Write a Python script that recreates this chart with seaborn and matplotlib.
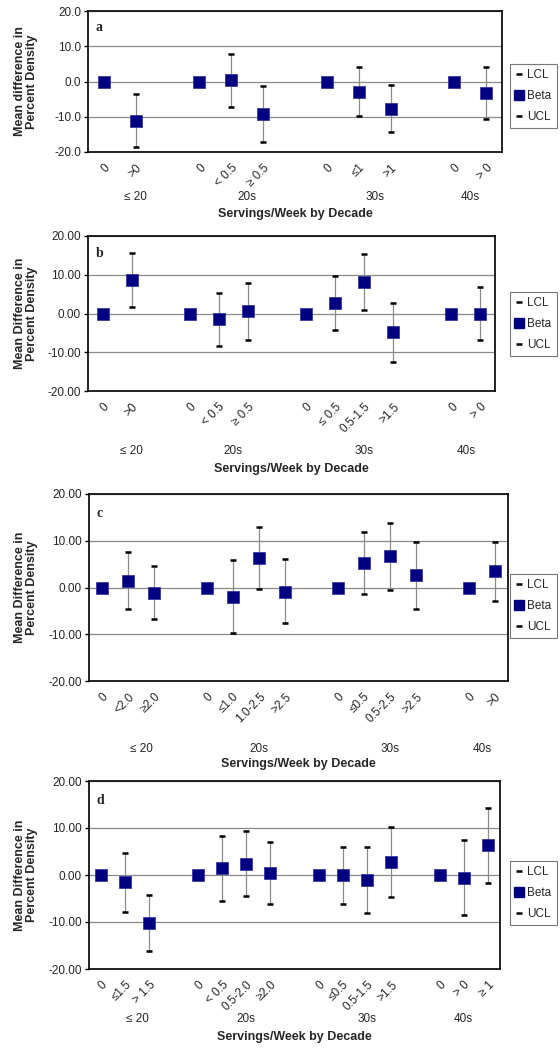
import numpy as np
import pandas as pd
import matplotlib
matplotlib.use('Agg')
import matplotlib.pyplot as plt
import seaborn as sns
from matplotlib.lines import Line2D
from matplotlib.ticker import FormatStrFormatter
from matplotlib.transforms import blended_transform_factory

# Data
decades = ['≤ 20', '20s', '30s', '40s']

a_cats = [['0', '>0'], ['0', '< 0.5', '≥ 0.5'], ['0', '≤1', '>1'], ['0', '> 0']]
a_beta = [0, -11.1, 0, 0.3, -9.2, 0, -3.0, -7.7, 0, -3.3]
a_lcl = [np.nan, -18.7, np.nan, -7.1, -17.2, np.nan, -9.9, -14.3, np.nan, -10.5]
a_ucl = [np.nan, -3.6, np.nan, 7.7, -1.3, np.nan, 4.0, -1.1, np.nan, 4.0]

b_cats = [['0', '>0'], ['0', '< 0.5', '≥ 0.5'], ['0', '≤ 0.5', '0.5-1.5', '>1.5'], ['0', '> 0']]
b_beta = [0, 8.6, 0, -1.5, 0.6, 0, 2.7, 8.1, -4.9, 0, -0.2]
b_lcl = [np.nan, 1.6, np.nan, -8.3, -6.8, np.nan, -4.3, 0.8, -12.5, np.nan, -6.9]
b_ucl = [np.nan, 15.5, np.nan, 5.3, 7.9, np.nan, 9.8, 15.3, 2.6, np.nan, 6.8]

c_cats = [['0', '<2.0', '≥2.0'], ['0', '≤1.0', '1.0-2.5', '>2.5'],
          ['0', '≤0.5', '0.5-2.5', '>2.5'], ['0', '>0']]
c_beta = [0, 1.4, -1.1, 0, -2.0, 6.3, -1.0, 0, 5.3, 6.7, 2.6, 0, 3.5]
c_lcl = [np.nan, -4.5, -6.7, np.nan, -9.8, -0.3, -7.7, np.nan, -1.3, -0.5, -4.7, np.nan, -2.8]
c_ucl = [np.nan, 7.5, 4.7, np.nan, 5.9, 12.9, 6.0, np.nan, 11.8, 13.9, 9.8, np.nan, 9.8]

d_cats = [['0', '≤1.5', '> 1.5'], ['0', '< 0.5', '0.5-2.0', '≥2.0'],
          ['0', '≤0.5', '0.5-1.5', '>1.5'], ['0', '> 0', '≥ 1']]
d_beta = [0, -1.5, -10.2, 0, 1.4, 2.4, 0.4, 0, -0.1, -1.1, 2.8, 0, -0.6, 6.3]
d_lcl = [np.nan, -7.8, -16.2, np.nan, -5.6, -4.4, -6.2, np.nan, -6.2, -8.1, -4.7, np.nan, -8.5, -1.7]
d_ucl = [np.nan, 4.75, -4.3, np.nan, 8.4, 9.3, 7.0, np.nan, 5.9, 5.9, 10.2, np.nan, 7.5, 14.3]

W, H = 560, 1048
NAVY = '#000080'

sns.set_theme(style='white')
plt.rcParams['font.family'] = ['Liberation Sans', 'DejaVu Sans']


def build(cats, beta, lcl, ucl):
    # categories with an empty slot between decades, like the Excel axis
    rows, centers, pos = [], [], 0
    for g, labels in enumerate(cats):
        start = pos
        for lab in labels:
            rows.append((pos, lab))
            pos += 1
        end = pos if g < len(cats) - 1 else pos - 1
        centers.append((start + end) / 2)
        pos += 1
    df = pd.DataFrame(rows, columns=['pos', 'label'])
    df['beta'] = beta
    df['lcl'] = lcl
    df['ucl'] = ucl
    return df, centers, pos - 1


def draw_panel(fig, box, data, letter, ylabel, yfmt, decade_y, title_y, legend_y):
    left, right, top, bottom = box
    df, centers, nslots = build(*data)
    ax = fig.add_axes([left / W, 1 - bottom / H, (right - left) / W, (bottom - top) / H])

    ax.set_yticks([-20, -10, 0, 10, 20])
    ax.yaxis.grid(True, color='#8a8a8a', lw=0.9)
    ax.set_axisbelow(True)

    ci = df.dropna()
    ax.vlines(ci['pos'], ci['lcl'], ci['ucl'], color='#8c8c8c', lw=0.9, zorder=2)
    sns.scatterplot(data=ci, x='pos', y='lcl', marker='_', color='black', s=20,
                    linewidth=1.8, ax=ax, zorder=3)
    sns.scatterplot(data=ci, x='pos', y='ucl', marker='_', color='black', s=20,
                    linewidth=1.8, ax=ax, zorder=3)
    sns.scatterplot(data=df, x='pos', y='beta', marker='s', color=NAVY, s=68,
                    edgecolor='#2a2a9a', linewidth=0.5, ax=ax, zorder=4)

    ax.set_xlim(-0.5, nslots - 0.5)
    ax.set_ylim(-20, 20)
    ax.set_xticks(df['pos'])
    ax.set_xticklabels(df['label'], rotation=45, ha='right', rotation_mode='anchor', fontsize=8.5)
    ax.tick_params(axis='x', length=0, pad=7)
    ax.tick_params(axis='y', length=3, direction='out', left=True, width=1,
                   color='black', labelsize=8.5, pad=2)
    ax.yaxis.set_major_formatter(FormatStrFormatter(yfmt))
    ax.set_xlabel('')
    ax.set_ylabel('')
    for sp in ax.spines.values():
        sp.set_color('#111111')
        sp.set_linewidth(1.3)

    ax.text(0.018, 0.93, letter, transform=ax.transAxes, va='top', ha='left',
            fontsize=10, fontweight='bold', family='Liberation Serif')

    tr = blended_transform_factory(ax.transData, fig.transFigure)
    for c, d in zip(centers, decades):
        ax.text(c, 1 - decade_y / H, d, transform=tr, ha='center', va='center', fontsize=8.5)
    fig.text((left + right) / 2 / W, 1 - title_y / H, 'Servings/Week by Decade',
             ha='center', va='center', fontsize=9, fontweight='bold')
    fig.text(26 / W, 1 - ((top + bottom) / 2) / H, ylabel, rotation=90, ha='center',
             va='center', fontsize=9, fontweight='bold', multialignment='center',
             linespacing=1.0)

    handles = [
        Line2D([], [], ls='none', marker='_', color='black', markersize=5, mew=1.8),
        Line2D([], [], ls='none', marker='s', color=NAVY, markersize=7),
        Line2D([], [], ls='none', marker='_', color='black', markersize=5, mew=1.8),
    ]
    leg = ax.legend(handles, ['LCL', 'Beta', 'UCL'], loc='center left',
                    bbox_to_anchor=(510 / W, 1 - legend_y / H), bbox_transform=fig.transFigure,
                    fontsize=8.5, frameon=True, fancybox=False, borderpad=0.45,
                    labelspacing=0.75, handlelength=0.7, handletextpad=0.3,
                    borderaxespad=0)
    leg.get_frame().set_edgecolor('#555555')
    leg.get_frame().set_linewidth(0.8)
    return ax


fig = plt.figure(figsize=(W / 100, H / 100), dpi=100)
fig.patch.set_facecolor('white')

draw_panel(fig, (88, 502, 11, 152), (a_cats, a_beta, a_lcl, a_ucl), 'a',
           'Mean difference in\nPercent Density', '%.1f', 197, 214, 96)
draw_panel(fig, (88, 495, 236, 391), (b_cats, b_beta, b_lcl, b_ucl), 'b',
           'Mean Difference in\nPercent Density', '%.2f', 451, 469, 324)
draw_panel(fig, (89, 508, 494, 681), (c_cats, c_beta, c_lcl, c_ucl), 'c',
           'Mean Difference in\nPercent Density', '%.2f', 749, 764, 606)
draw_panel(fig, (89, 500, 781, 969), (d_cats, d_beta, d_lcl, d_ucl), 'd',
           'Mean Difference in\nPercent Density', '%.2f', 1019, 1037, 893)

fig.savefig('out.png', dpi=100)
